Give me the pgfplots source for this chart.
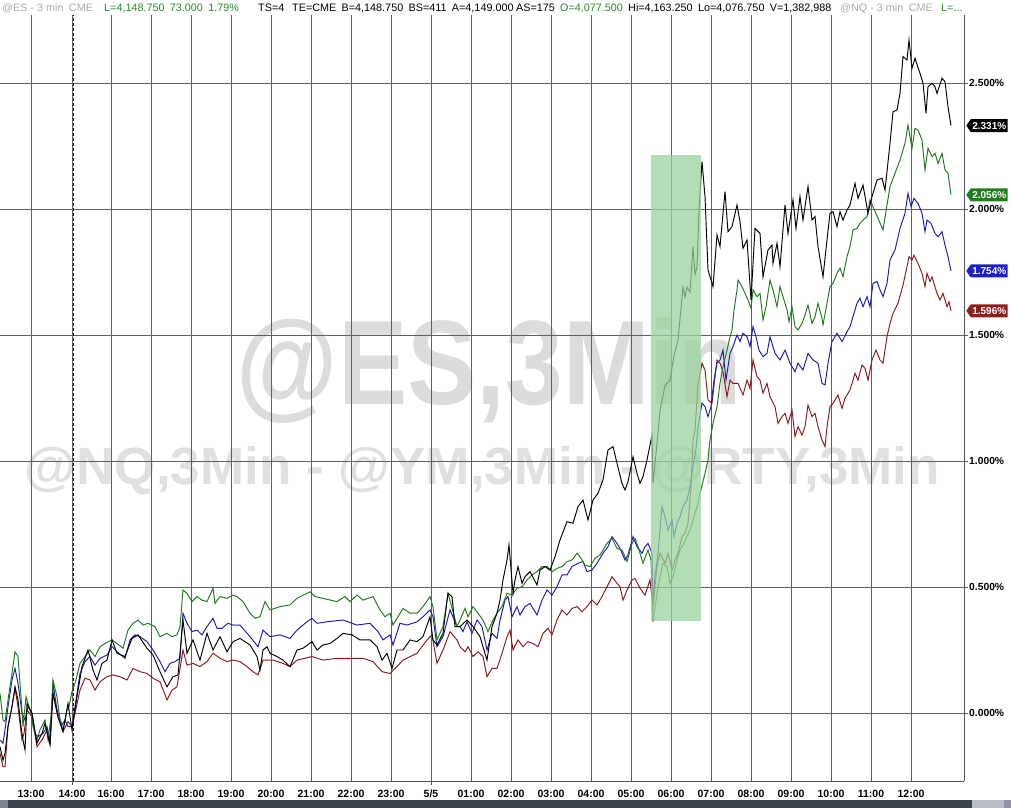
\documentclass[border=0pt]{standalone}
\usepackage{fontspec}
\setmainfont{Liberation Sans}
\usepackage{pgfplots}
\pgfplotsset{compat=1.18}
\usetikzlibrary{shapes.symbols}
\definecolor{wm}{RGB}{220,220,220}
\definecolor{wmb}{RGB}{224,224,224}
\definecolor{gridgray}{RGB}{95,95,95}
\definecolor{axisgray}{RGB}{75,85,95}
\definecolor{esblack}{RGB}{0,0,0}
\definecolor{ymgreen}{RGB}{30,120,30}
\definecolor{nqblue}{RGB}{25,25,180}
\definecolor{rtyred}{RGB}{140,25,25}
\definecolor{lblgreen}{RGB}{34,125,34}
\definecolor{lblblue}{RGB}{30,30,200}
\definecolor{lblred}{RGB}{140,30,30}
\definecolor{hdrgray}{RGB}{170,170,170}
\definecolor{hdrgreen}{RGB}{40,140,40}
\definecolor{boxgreen}{RGB}{153,210,156}
\definecolor{sbA}{RGB}{125,133,145}
\definecolor{sbB}{RGB}{62,68,76}
\definecolor{sbC}{RGB}{185,189,198}
\definecolor{sbD}{RGB}{142,150,166}
\begin{document}
\begin{tikzpicture}
\useasboundingbox (0,0) rectangle (1011pt,808pt);
% watermarks
\node[anchor=base, text=wm, inner sep=0pt] at (489.5pt,403pt) {\resizebox{505pt}{87pt}{\bfseries @ES,3Min}};
\node[anchor=base, text=wmb, inner sep=0pt] at (482.5pt,323pt) {\resizebox{915pt}{38pt}{\bfseries @NQ,3Min - @YM,3Min - @RTY,3Min}};
\begin{axis}[
  at={(0pt,27pt)}, anchor=south west,
  scale only axis, width=964pt, height=766pt,
  xmin=0, xmax=964, ymin=-0.2698, ymax=2.7698,
  axis x line*=bottom, axis y line*=right,
  axis line style={draw=axisgray, line width=1pt},
  clip=false,
  xtick={31,72,111,151,191,231,271,311,351,391,431,471,511,551,591,631,671,711,751,791,831,871,911},
  xticklabels={13:00,14:00,16:00,17:00,18:00,19:00,20:00,21:00,22:00,23:00,5/5,01:00,02:00,03:00,04:00,05:00,06:00,07:00,08:00,09:00,10:00,11:00,12:00},
  ytick={0,0.5,1,1.5,2,2.5},
  yticklabels={0.000\%,0.500\%,1.000\%,1.500\%,2.000\%,2.500\%},
  grid=major,
  major grid style={draw=gridgray, line width=0.8pt},
  xtick style={draw=none},
  ytick style={draw=gridgray, line width=0.8pt},
  major tick length=4pt, tick align=outside,
  xticklabel style={font=\bfseries\fontsize{10.5}{12}\selectfont, anchor=base, yshift=-12pt},
  yticklabel style={font=\bfseries\fontsize{10.3}{12}\selectfont, anchor=west, inner sep=0pt, xshift=1pt},
  /pgf/number format/assume math mode=true,
  every axis plot/.append style={line width=0.95pt, mark=none},
]
\draw[black, dash pattern=on 3pt off 2pt, line width=0.9pt] (axis cs:73,-0.2698) -- (axis cs:73,2.7698);
\draw[axisgray, line width=0.8pt] (axis cs:72,-0.2698) -- ++(0pt,-4pt);
\draw[axisgray, line width=0.8pt] (axis cs:431,-0.2698) -- ++(0pt,-4pt);

% RTY (red)
\addplot[rtyred] coordinates {
(0,-0.160)(3,-0.213)(5,-0.213)(8,-0.054)(12,0.025)(15,0.098)(18,0.025)(22,-0.107)(24,-0.081)(27,0.012)
(32,-0.015)(37,-0.134)(42,-0.107)(47,-0.067)(50,-0.120)(53,0.078)(58,-0.015)(63,-0.074)(68,-0.034)(72,-0.054)
(75,-0.001)(80,0.091)(85,0.138)(90,0.131)(95,0.091)(100,0.124)(107,0.144)(113,0.151)(120,0.144)(127,0.131)
(133,0.177)(140,0.164)(147,0.157)(153,0.138)(160,0.124)(167,0.052)(172,0.091)(177,0.104)(183,0.250)(187,0.190)
(193,0.197)(200,0.184)(207,0.204)(213,0.237)(220,0.217)(227,0.204)(233,0.210)(240,0.204)(247,0.184)(253,0.164)
(258,0.151)(263,0.210)(273,0.210)(283,0.197)(290,0.184)(297,0.210)(312,0.224)(323,0.210)(337,0.217)(350,0.217)
(363,0.217)(373,0.204)(382,0.164)(390,0.157)(397,0.184)(403,0.210)(417,0.237)(427,0.290)(432,0.310)(437,0.197)
(443,0.250)(450,0.323)(457,0.290)(460,0.263)(465,0.243)(468,0.263)(473,0.224)(478,0.243)(483,0.224)(487,0.144)
(492,0.177)(497,0.177)(502,0.237)(507,0.303)(510,0.329)(513,0.250)(518,0.290)(523,0.263)(528,0.283)(533,0.276)
(538,0.263)(543,0.316)(548,0.336)(552,0.310)(557,0.369)(562,0.409)(567,0.389)(572,0.415)(577,0.422)(582,0.402)
(587,0.422)(592,0.448)(597,0.429)(602,0.462)(607,0.501)(612,0.541)(617,0.515)(620,0.501)(623,0.448)(627,0.488)
(632,0.528)(635,0.534)(640,0.495)(645,0.468)(650,0.528)(653,0.422)(657,0.581)(660,0.634)(665,0.594)(668,0.634)
(672,0.567)(675,0.607)(678,0.634)(682,0.700)(685,0.713)(688,0.753)(691,0.898)(693,1.083)(695,1.123)(698,1.300)
(702,1.388)(705,1.361)(708,1.242)(712,1.229)(715,1.335)(717,1.401)(720,1.388)(723,1.354)(727,1.255)(730,1.321)
(733,1.308)(738,1.308)(743,1.262)(747,1.321)(750,1.288)(753,1.401)(757,1.335)(760,1.321)(763,1.269)(767,1.308)
(770,1.255)(775,1.216)(778,1.149)(782,1.176)(785,1.189)(788,1.149)(792,1.202)(795,1.097)(798,1.136)(802,1.103)
(805,1.136)(808,1.222)(812,1.176)(815,1.189)(818,1.136)(822,1.083)(825,1.057)(827,1.136)(830,1.216)(833,1.229)
(838,1.262)(842,1.209)(845,1.249)(850,1.282)(855,1.348)(858,1.321)(862,1.381)(865,1.368)(868,1.321)(872,1.401)
(876,1.440)(880,1.401)(883,1.388)(887,1.493)(890,1.546)(893,1.586)(898,1.626)(903,1.698)(907,1.771)(909,1.811)
(912,1.798)(914,1.817)(918,1.784)(922,1.745)(925,1.692)(927,1.745)(930,1.712)(932,1.731)(937,1.665)(940,1.639)
(943,1.665)(947,1.612)(949,1.632)(951,1.596)
};

% NQ (blue)
\addplot[nqblue] coordinates {
(0,-0.107)(3,-0.120)(5,-0.067)(8,0.025)(12,0.131)(15,0.177)(18,0.118)(22,-0.001)(25,-0.028)(28,0.025)
(32,-0.001)(35,-0.081)(38,-0.094)(43,-0.081)(47,-0.054)(50,-0.107)(53,0.118)(57,0.012)(62,-0.048)(65,-0.028)
(68,-0.054)(72,-0.054)(75,0.025)(80,0.157)(85,0.204)(90,0.224)(95,0.190)(100,0.217)(107,0.230)(112,0.263)
(117,0.243)(125,0.217)(130,0.290)(135,0.310)(140,0.303)(147,0.283)(153,0.250)(160,0.204)(165,0.164)(170,0.197)
(175,0.204)(180,0.217)(183,0.396)(187,0.356)(192,0.323)(197,0.329)(202,0.310)(207,0.343)(213,0.376)(217,0.336)
(222,0.336)(228,0.356)(233,0.349)(240,0.349)(250,0.303)(258,0.263)(263,0.329)(270,0.303)(280,0.310)(290,0.296)
(297,0.329)(307,0.362)(312,0.376)(317,0.356)(327,0.362)(343,0.369)(357,0.349)(370,0.356)(378,0.323)(383,0.290)
(390,0.310)(393,0.270)(400,0.356)(407,0.349)(417,0.362)(423,0.382)(430,0.409)(433,0.382)(437,0.263)(443,0.303)
(450,0.409)(457,0.343)(460,0.343)(463,0.323)(467,0.362)(472,0.316)(477,0.369)(482,0.343)(487,0.250)(492,0.316)
(497,0.296)(500,0.369)(505,0.448)(508,0.462)(512,0.382)(517,0.422)(520,0.389)(525,0.422)(530,0.435)(537,0.389)
(542,0.448)(547,0.488)(552,0.468)(557,0.501)(562,0.548)(567,0.548)(572,0.581)(578,0.594)(583,0.601)(587,0.561)
(592,0.567)(597,0.594)(603,0.634)(608,0.660)(612,0.700)(617,0.673)(620,0.653)(625,0.607)(628,0.627)(633,0.700)
(637,0.660)(642,0.634)(645,0.660)(648,0.673)(652,0.634)(653,0.435)(655,0.541)(658,0.634)(662,0.819)(665,0.779)
(668,0.726)(672,0.766)(674,0.700)(677,0.753)(680,0.779)(683,0.819)(687,0.845)(690,0.898)(693,0.978)(696,1.050)
(698,1.136)(702,1.230)(705,1.216)(708,1.176)(711,1.216)(714,1.321)(717,1.388)(720,1.401)(723,1.440)(726,1.321)
(730,1.427)(733,1.454)(737,1.500)(740,1.474)(743,1.507)(747,1.493)(750,1.454)(753,1.533)(756,1.493)(759,1.440)
(763,1.414)(767,1.427)(770,1.493)(775,1.427)(780,1.401)(785,1.440)(790,1.388)(795,1.354)(798,1.388)(803,1.361)
(808,1.427)(813,1.401)(818,1.388)(822,1.308)(825,1.302)(828,1.388)(832,1.474)(837,1.507)(842,1.474)(847,1.513)
(850,1.533)(853,1.573)(857,1.626)(860,1.646)(863,1.612)(867,1.652)(870,1.612)(873,1.705)(877,1.712)(880,1.679)
(883,1.652)(887,1.705)(890,1.798)(895,1.837)(900,1.923)(905,1.983)(908,2.062)(911,2.009)(914,2.042)(918,2.022)
(922,1.983)(925,1.910)(927,1.956)(931,1.943)(935,1.903)(938,1.890)(942,1.910)(945,1.857)(948,1.811)(951,1.754)
};

% YM (green)
\addplot[ymgreen] coordinates {
(0,0.078)(3,-0.028)(5,-0.034)(8,0.052)(12,0.157)(15,0.243)(18,0.224)(21,0.065)(23,-0.054)(26,0.065)
(28,0.038)(31,-0.001)(33,-0.054)(37,-0.107)(40,-0.067)(45,-0.028)(48,-0.107)(51,-0.015)(53,0.131)(57,0.065)
(60,-0.028)(63,-0.067)(67,0.012)(69,0.025)(72,0.085)(75,0.118)(80,0.197)(85,0.224)(90,0.250)(95,0.224)
(100,0.263)(105,0.276)(112,0.290)(117,0.276)(123,0.257)(128,0.329)(133,0.356)(138,0.369)(143,0.349)(148,0.356)
(155,0.343)(160,0.303)(167,0.316)(172,0.303)(177,0.310)(180,0.343)(183,0.488)(187,0.475)(192,0.442)(197,0.462)
(202,0.448)(207,0.442)(213,0.495)(215,0.435)(220,0.462)(227,0.455)(233,0.468)(237,0.462)(243,0.442)(250,0.396)
(255,0.376)(260,0.382)(265,0.442)(270,0.409)(280,0.422)(290,0.429)(297,0.455)(307,0.475)(310,0.481)(315,0.462)
(323,0.455)(337,0.442)(345,0.462)(350,0.442)(357,0.468)(363,0.448)(373,0.462)(380,0.409)(385,0.382)(390,0.396)
(393,0.349)(403,0.415)(410,0.396)(417,0.396)(423,0.422)(430,0.462)(433,0.422)(437,0.290)(443,0.343)(448,0.475)
(457,0.343)(460,0.369)(465,0.415)(468,0.382)(473,0.422)(478,0.396)(483,0.369)(488,0.323)(493,0.369)(498,0.402)
(502,0.422)(507,0.475)(512,0.468)(517,0.495)(522,0.501)(527,0.528)(532,0.548)(537,0.561)(542,0.581)(547,0.581)
(552,0.561)(557,0.574)(562,0.581)(567,0.601)(572,0.607)(577,0.634)(580,0.620)(585,0.587)(590,0.581)(595,0.614)
(600,0.627)(607,0.673)(612,0.693)(617,0.653)(622,0.647)(627,0.601)(632,0.673)(635,0.693)(638,0.660)(643,0.594)
(648,0.647)(651,0.607)(653,0.362)(657,0.475)(660,0.541)(663,0.594)(667,0.581)(670,0.515)(673,0.541)(677,0.607)
(680,0.647)(683,0.667)(687,0.700)(690,0.726)(693,0.766)(697,0.819)(700,0.872)(705,0.951)(708,1.004)(710,1.083)
(713,1.149)(717,1.216)(720,1.308)(723,1.374)(727,1.440)(730,1.493)(732,1.520)(734,1.599)(737,1.679)(738,1.718)
(742,1.692)(745,1.665)(748,1.639)(751,1.606)(753,1.679)(757,1.652)(760,1.665)(763,1.560)(766,1.612)(770,1.718)
(773,1.679)(777,1.612)(780,1.692)(783,1.652)(787,1.599)(789,1.553)(792,1.612)(795,1.533)(798,1.520)(802,1.546)
(805,1.579)(808,1.619)(812,1.546)(815,1.573)(818,1.626)(822,1.566)(823,1.540)(827,1.626)(830,1.692)(833,1.705)
(837,1.745)(840,1.765)(843,1.731)(847,1.811)(850,1.851)(853,1.917)(857,1.923)(860,1.943)(863,1.956)(867,1.970)
(870,2.036)(873,2.009)(878,1.963)(883,1.917)(887,2.016)(890,2.089)(895,2.142)(900,2.194)(905,2.261)(908,2.333)
(912,2.241)(915,2.320)(918,2.313)(922,2.274)(925,2.155)(928,2.241)(932,2.208)(935,2.221)(938,2.181)(942,2.221)
(945,2.155)(948,2.142)(951,2.056)
};

% ES (black)
\addplot[esblack] coordinates {
(0,-0.134)(3,-0.187)(5,-0.160)(8,-0.054)(12,0.025)(15,0.104)(18,0.052)(21,-0.054)(23,-0.107)(25,-0.147)
(27,0.038)(32,-0.001)(37,-0.120)(42,-0.081)(45,-0.041)(50,-0.127)(53,0.078)(58,-0.015)(63,-0.074)(68,0.038)
(72,-0.067)(77,0.065)(82,0.184)(88,0.250)(93,0.171)(97,0.131)(102,0.197)(107,0.210)(112,0.290)(117,0.237)
(125,0.224)(132,0.296)(138,0.310)(147,0.257)(153,0.230)(160,0.164)(167,0.104)(173,0.144)(178,0.151)(183,0.369)
(187,0.237)(193,0.290)(200,0.210)(207,0.316)(213,0.250)(220,0.303)(227,0.243)(233,0.283)(240,0.296)(250,0.270)
(257,0.224)(260,0.171)(263,0.250)(267,0.263)(270,0.237)(277,0.224)(283,0.210)(290,0.184)(297,0.250)(303,0.257)
(312,0.283)(317,0.250)(323,0.270)(330,0.276)(337,0.296)(343,0.316)(352,0.310)(360,0.290)(370,0.290)(377,0.263)
(382,0.210)(387,0.237)(392,0.177)(397,0.250)(403,0.250)(410,0.290)(417,0.283)(423,0.303)(430,0.382)(433,0.290)
(437,0.270)(443,0.316)(448,0.475)(452,0.462)(455,0.343)(460,0.343)(467,0.369)(473,0.343)(480,0.303)(487,0.210)
(492,0.343)(497,0.396)(500,0.448)(503,0.528)(507,0.607)(509,0.667)(513,0.475)(515,0.528)(518,0.581)(522,0.515)
(525,0.541)(530,0.561)(537,0.508)(540,0.567)(545,0.581)(550,0.567)(555,0.620)(560,0.687)(567,0.759)(573,0.753)
(578,0.819)(583,0.845)(588,0.766)(593,0.845)(598,0.872)(603,0.925)(608,1.044)(613,1.057)(617,0.991)(622,0.911)
(625,0.885)(628,0.918)(633,1.017)(637,0.951)(640,0.911)(643,0.938)(647,1.004)(652,1.103)(653,0.911)(657,1.070)
(660,1.200)(665,1.300)(670,1.320)(674,1.420)(678,1.480)(683,1.690)(685,1.650)(687,1.690)(690,1.670)(693,1.850)
(695,1.740)(697,1.770)(699,2.000)(702,2.188)(705,2.049)(708,1.758)(713,1.692)(717,1.897)(720,1.851)(725,2.069)
(728,1.910)(732,1.930)(737,2.016)(740,1.950)(743,1.844)(747,1.877)(751,1.639)(755,1.923)(760,1.903)(763,1.731)
(768,1.837)(772,1.857)(773,1.784)(777,1.864)(780,1.771)(785,2.016)(788,1.903)(793,2.036)(796,1.923)(800,2.049)
(803,1.956)(808,2.089)(812,1.956)(815,1.970)(818,1.851)(823,1.731)(827,1.877)(830,1.983)(833,1.989)(837,1.930)
(840,1.989)(843,1.956)(847,1.996)(850,2.016)(855,2.102)(858,2.042)(863,2.095)(868,1.983)(872,2.049)(877,2.115)
(882,2.122)(885,2.075)(890,2.261)(893,2.386)(897,2.393)(900,2.459)(903,2.605)(907,2.591)(909,2.671)(912,2.558)
(915,2.598)(920,2.538)(923,2.499)(926,2.380)(928,2.485)(932,2.499)(935,2.485)(937,2.459)(942,2.519)(945,2.505)
(948,2.406)(951,2.331)
};

% highlight box
\fill[boxgreen, fill opacity=0.75] (axis cs:651,0.365) rectangle (axis cs:701,2.214);

% last value labels
\tikzset{lastval/.style={signal, signal to=west, signal pointer angle=110, text=white, anchor=west,
  font=\bfseries\fontsize{10}{12}\selectfont, inner xsep=1.5pt, inner ysep=1.2pt, minimum height=13pt}}
\node[lastval, fill=black] at (axis cs:966,2.331) {2.331\%};
\node[lastval, fill=lblgreen] at (axis cs:966,2.056) {2.056\%};
\node[lastval, fill=lblblue] at (axis cs:966,1.754) {1.754\%};
\node[lastval, fill=lblred] at (axis cs:966,1.596) {1.596\%};
\end{axis}

% header line
\begin{scope}[every node/.style={anchor=base west, inner sep=0pt, font=\fontsize{10.8}{12}\selectfont}]
\node[text=hdrgray] at (2pt,796pt) {@ES - 3 min\enspace CME};
\node[text=hdrgreen] at (104pt,796pt) {L=4,148.750\enspace 73.000\enspace 1.79\%};
\node[text=black] at (258pt,796pt) {TS=4};
\node[text=black] at (292pt,796pt) {TE=CME\enspace B=4,148.750\enspace BS=411\enspace A=4,149.000};
\node[text=black] at (516pt,796pt) {AS=175};
\node[text=hdrgreen] at (560pt,796pt) {O=4,077.500};
\node[text=black] at (628pt,796pt) {Hi=4,163.250\enspace Lo=4,076.750\enspace V=1,382,988};
\node[text=hdrgray] at (840pt,796pt) {@NQ - 3 min\enspace CME};
\node[text=hdrgreen] at (941pt,796pt) {L=...};
\end{scope}

% scrollbar
\fill[sbA] (0pt,0pt) rectangle (8pt,8pt);
\fill[sbB] (8pt,0pt) rectangle (972pt,8pt);
\fill[sbC] (972pt,0pt) rectangle (1004pt,8pt);
\fill[sbD] (1004pt,0pt) rectangle (1011pt,8pt);
\end{tikzpicture}
\end{document}
